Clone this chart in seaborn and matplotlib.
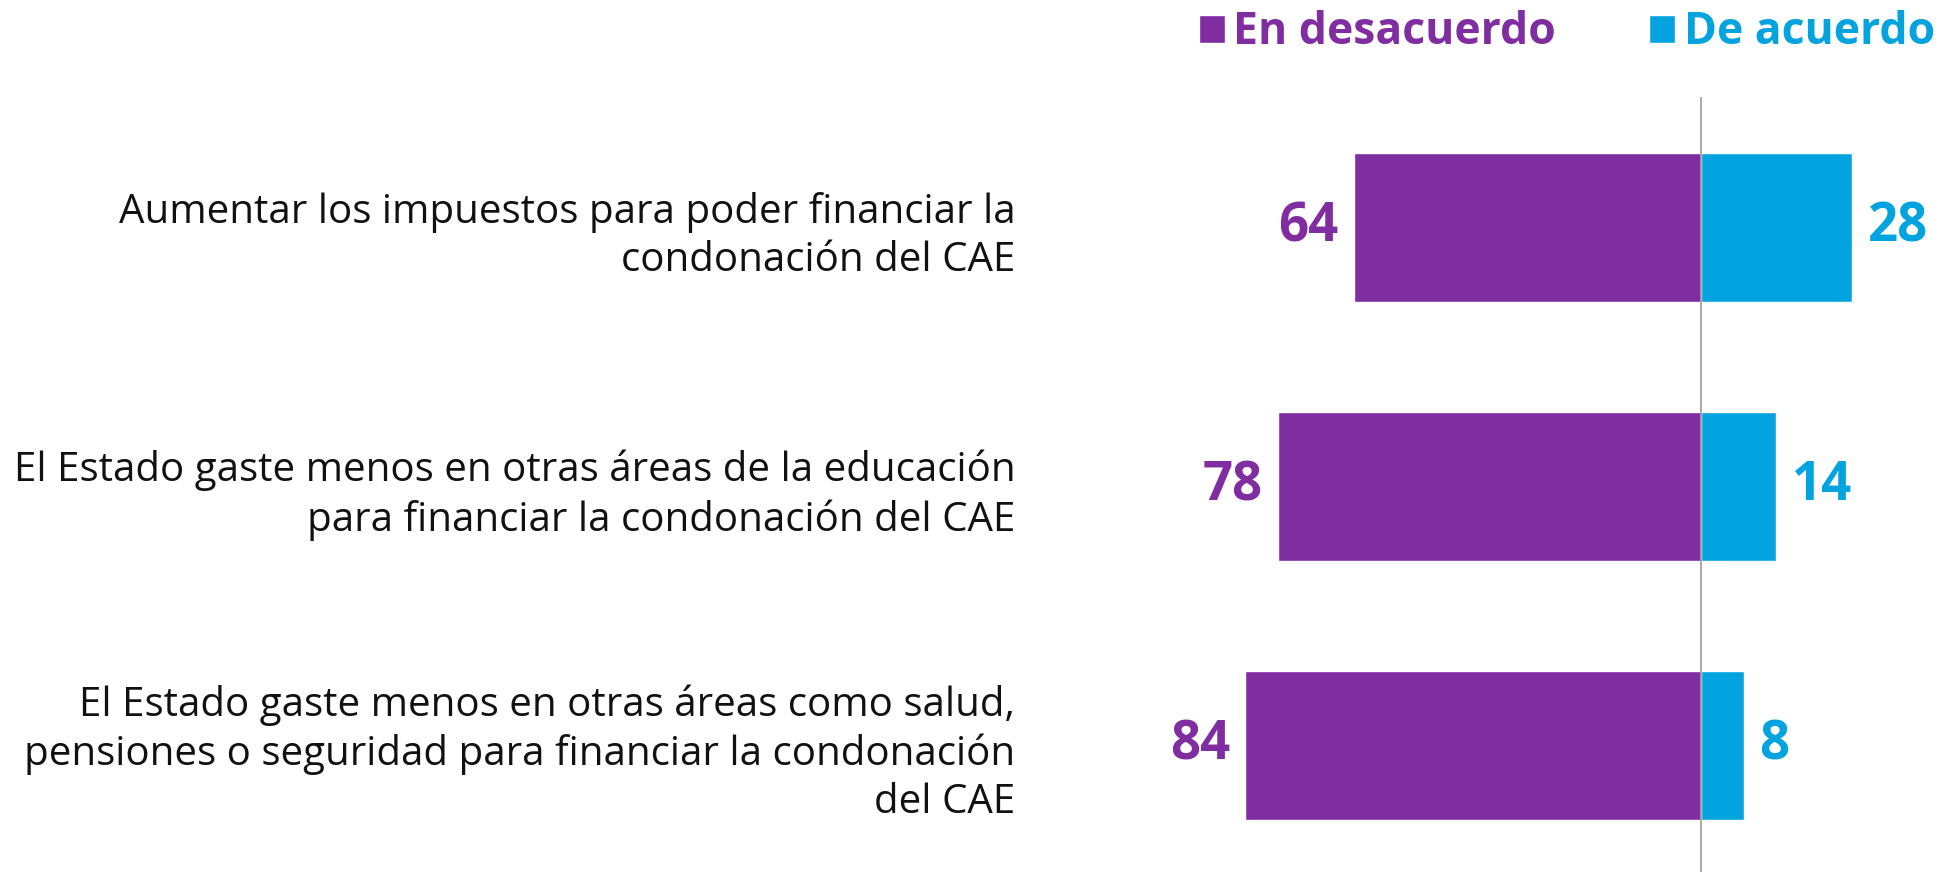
import pandas as pd
import matplotlib.pyplot as plt
import seaborn as sns

# Datos
items = [
    "Aumentar los impuestos para poder financiar la\ncondonación del CAE",
    "El Estado gaste menos en otras áreas de la educación\npara financiar la condonación del CAE",
    "El Estado gaste menos en otras áreas como salud,\npensiones o seguridad para financiar la condonación\ndel CAE",
]
desacuerdo = [64, 78, 84]
acuerdo = [28, 14, 8]

morado = "#812DA2"
azul = "#03A3E0"

data = pd.DataFrame({"item": items, "desacuerdo": desacuerdo, "acuerdo": acuerdo})
data["neg"] = -data["desacuerdo"]

sns.set_style("white")
plt.rcParams["font.family"] = ["Open Sans", "DejaVu Sans"]

fig = plt.figure(figsize=(19.45, 8.72), dpi=100)
ax = fig.add_axes([1100 / 1945, 0, 845 / 1945, 775 / 872])

sns.barplot(data=data, x="neg", y="item", color=morado, width=0.575,
            saturation=1, ax=ax, label="En desacuerdo")
sns.barplot(data=data, x="acuerdo", y="item", color=azul, width=0.575,
            saturation=1, ax=ax, label="De acuerdo")

ax.set_xlim(-110.8, 45.1)
ax.set_ylim(2.49, -0.504)
ax.axvline(0, color="#9a9a9a", lw=1.2, zorder=5)

# Etiquetas de valores
for i in range(len(items)):
    ax.annotate(str(desacuerdo[i]), (-desacuerdo[i], i), xytext=(-11, 0),
                textcoords="offset points", ha="right", va="center",
                fontsize=38, fontweight="bold", color=morado)
    ax.annotate(str(acuerdo[i]), (acuerdo[i], i), xytext=(11, 0),
                textcoords="offset points", ha="left", va="center",
                fontsize=38, fontweight="bold", color=azul)

ax.set_xlabel("")
ax.set_ylabel("")
ax.set_xticks([])
ax.tick_params(axis="y", length=0, pad=61, labelsize=29)
for t in ax.get_yticklabels():
    t.set_horizontalalignment("right")
    t.set_linespacing(1.25)
    t.set_color("#111111")
sns.despine(ax=ax, left=True, bottom=True)

# Leyenda
handles, labels = ax.get_legend_handles_labels()
if ax.get_legend():
    ax.get_legend().remove()
leg = fig.legend(handles, labels, loc="upper right", bbox_to_anchor=(0.995, 0.988),
                 ncol=2, frameon=False, handlelength=0.58, handleheight=0.58,
                 handletextpad=0.2, columnspacing=2.1, borderaxespad=0, borderpad=0,
                 prop={"size": 32, "weight": "bold"})
for txt, c in zip(leg.get_texts(), [morado, azul]):
    txt.set_color(c)

fig.savefig("out.png", dpi=100)
